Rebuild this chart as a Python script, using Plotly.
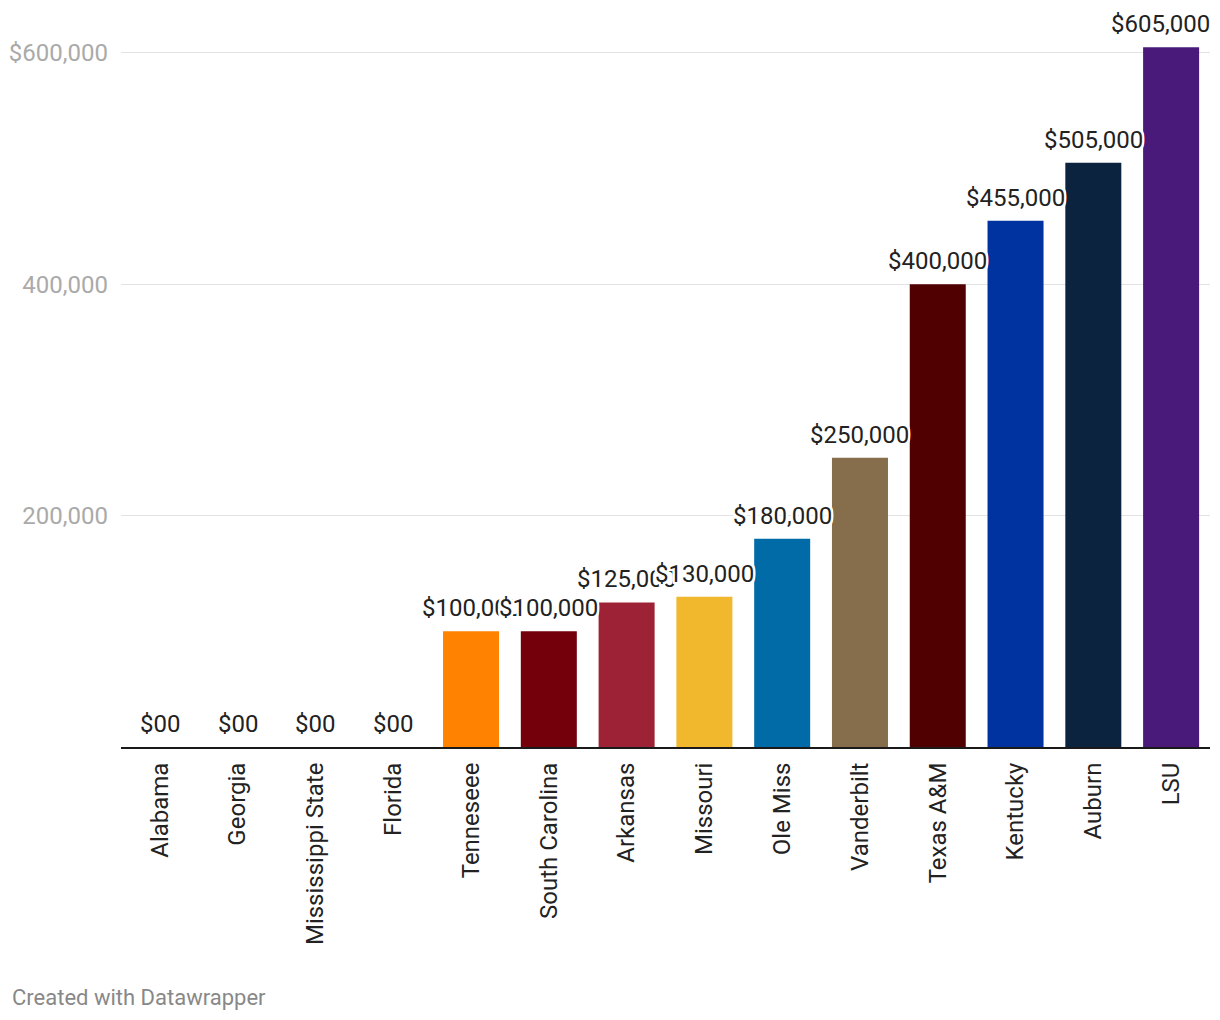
import plotly.graph_objects as go

schools = ["Alabama", "Georgia", "Mississippi State", "Florida", "Tenneseee", "South Carolina",
           "Arkansas", "Missouri", "Ole Miss", "Vanderbilt", "Texas A&M", "Kentucky", "Auburn", "LSU"]
amounts = [0, 0, 0, 0, 100000, 100000, 125000, 130000, 180000, 250000, 400000, 455000, 505000, 605000]
labels = ["$00", "$00", "$00", "$00", "$100,000", "$100,000", "$125,000", "$130,000", "$180,000",
          "$250,000", "$400,000", "$455,000", "$505,000", "$605,000"]
colors = ["#cccccc", "#cccccc", "#cccccc", "#cccccc", "#FF8200", "#73000A", "#9D2235", "#F1B82D",
          "#006BA6", "#866D4B", "#500000", "#0033A0", "#0C2340", "#4A1A7A"]
tick_vals = [200000, 400000, 600000]
tick_text = ["200,000", "400,000", "$600,000"]

# page body has an 8px margin; figure sits at (8, 8)
W, H = 1204, 1004
L, R, T, B = 113, 2, 12, 265
PW, PH = W - L - R, H - T - B

fig = go.Figure()
fig.add_trace(go.Bar(x=schools, y=amounts, marker=dict(color=colors, line=dict(width=0)),
                     hoverinfo="skip"))

halo = ", ".join(f"{dx}px {dy}px 0 white" for dx in (-2, -1, 0, 1, 2) for dy in (-2, -1, 0, 1, 2))
n = len(schools)
for i, (s, v, t) in enumerate(zip(schools, amounts, labels)):
    # keep the last label inside the chart, as the reference does
    shift = -11 if i == n - 1 else 0
    fig.add_annotation(x=s, y=v, text=t, showarrow=False, yanchor="bottom", yshift=7,
                       xshift=shift,
                       font=dict(family="Roboto", size=24, color="#222222", shadow=halo))

fig.update_layout(
    width=W, height=H,
    margin=dict(l=L, r=R, t=T, b=B),
    plot_bgcolor="white", paper_bgcolor="white",
    bargap=0.28, showlegend=False,
    font=dict(family="Roboto", size=24, color="#333333"),
    xaxis=dict(tickangle=-90, showgrid=False, showline=True, linecolor="#1a1a1a", linewidth=2,
               ticks="", ticklabelstandoff=4, automargin=False,
               range=[-0.5, n - 0.5], autorange=False,
               tickfont=dict(size=24, color="#222222")),
    yaxis=dict(range=[0, 628500], tickvals=tick_vals, ticktext=tick_text, showgrid=True,
               gridcolor="#e3e3e3", gridwidth=1, zeroline=False, showline=False, ticks="",
               ticklabelstandoff=12, automargin=False,
               tickfont=dict(size=24, color="#aaaaaa")),
)
fig.add_annotation(xref="paper", yref="paper", x=(2 - L) / PW, y=-(989 - (T + PH)) / PH,
                   xanchor="left", yanchor="middle", showarrow=False,
                   text="Created with Datawrapper",
                   font=dict(family="Roboto", size=22, color="#888888"))

fig.write_html("out.html")
